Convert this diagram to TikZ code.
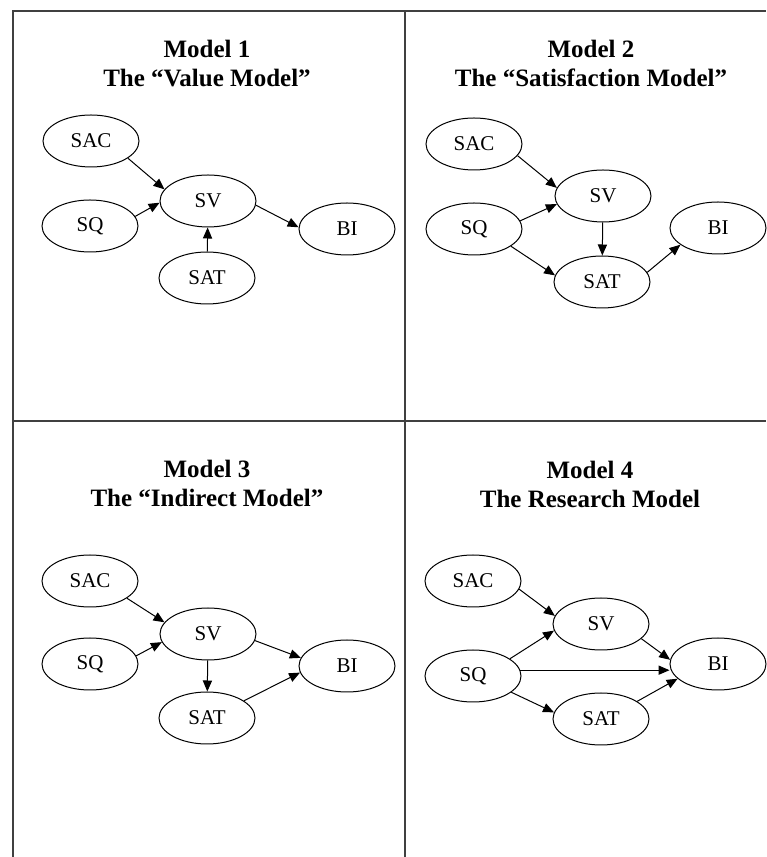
\documentclass[tikz,border=0pt]{standalone}
\usepackage{fontspec}
\setmainfont{Liberation Serif}
\usepackage{tikz}
\usetikzlibrary{arrows.meta,shapes.geometric}
\tikzset{
  var/.style={ellipse,draw,line width=0.5pt,minimum width=48pt,minimum height=26pt,
    inner sep=0pt,font=\fontsize{10.5}{12}\selectfont},
  title/.style={align=center,font=\fontsize{12.5}{14.5}\selectfont\bfseries},
  frame/.style={line width=0.9pt,black!75}
}
\tikzstyle{arrow} = [line width=0.5pt,-{Triangle[length=5.5pt,width=4.6pt]}]

\begin{document}
\begin{tikzpicture}[x=0.5pt,y=0.5pt]
  \useasboundingbox (0,0) rectangle (766,857);
  % frame
  \draw[frame] (13,0) -- (13,846) -- (766,846);
  \draw[frame] (405,0) -- (405,846);
  \draw[frame] (13,436) -- (766,436);

  % model 1
  \node[title] (t1) at (207,793.5) {Model 1\\The “Value Model”};
  \node[var] (sac1) at (91,716) {SAC};
  \node[var] (sq1) at (90,631) {SQ};
  \node[var] (sv1) at (208,656) {SV};
  \node[var] (sat1) at (207,579) {SAT};
  \node[var] (bi1) at (347,628) {BI};
  \draw[arrow] (sac1.-25) -- (sv1.165);
  \draw[arrow] (sq1.12) -- (sv1.182);
  \draw[arrow] (sat1) -- (sv1);
  \draw[arrow] (sv1.-5) -- (bi1.178);

  % model 2
  \node[title] (t2) at (591,793.5) {Model 2\\The “Satisfaction Model”};
  \node[var] (sac2) at (474,713) {SAC};
  \node[var] (sq2) at (474,628) {SQ};
  \node[var] (sv2) at (603,661) {SV};
  \node[var] (sat2) at (602,575) {SAT};
  \node[var] (bi2) at (718,629) {BI};
  \draw[arrow] (sac2.-15) -- (sv2.170);
  \draw[arrow] (sq2.10) -- (sv2.190);
  \draw[arrow] (sq2.-25) -- (sat2.172);
  \draw[arrow] (sv2) -- (sat2);
  \draw[arrow] (sat2.12) -- (bi2.204);

  % model 3
  \node[title] (t3) at (207,373.5) {Model 3\\The “Indirect Model”};
  \node[var] (sac3) at (90,276) {SAC};
  \node[var] (sq3) at (90,193) {SQ};
  \node[var] (sv3) at (208,223) {SV};
  \node[var] (sat3) at (207,139) {SAT};
  \node[var] (bi3) at (347,191) {BI};
  \draw[arrow] (sac3.-25) -- (sv3.165);
  \draw[arrow] (sq3.10) -- (sv3.190);
  \draw[arrow] (sv3) -- (sat3);
  \draw[arrow] (sv3.-8) -- (bi3.170);
  \draw[arrow] (sat3.25) -- (bi3.188);

  % model 4
  \node[title] (t4) at (590,372.5) {Model 4\\The Research Model};
  \node[var] (sac4) at (473,276) {SAC};
  \node[var] (sq4) at (473,181) {SQ};
  \node[var] (sv4) at (601,233) {SV};
  \node[var] (sat4) at (601,138) {SAT};
  \node[var] (bi4) at (718,193) {BI};
  \draw[arrow] (sac4.-10) -- (sv4.170);
  \draw[arrow] (sq4.25) -- (sv4.188);
  \draw[arrow] (sq4.7) -- (sq4.7 -| bi4.west);
  \draw[arrow] (sq4.-23) -- (sat4.172);
  \draw[arrow] (sv4.-20) -- (bi4.175);
  \draw[arrow] (sat4.26) -- (bi4.200);
\end{tikzpicture}
\end{document}
